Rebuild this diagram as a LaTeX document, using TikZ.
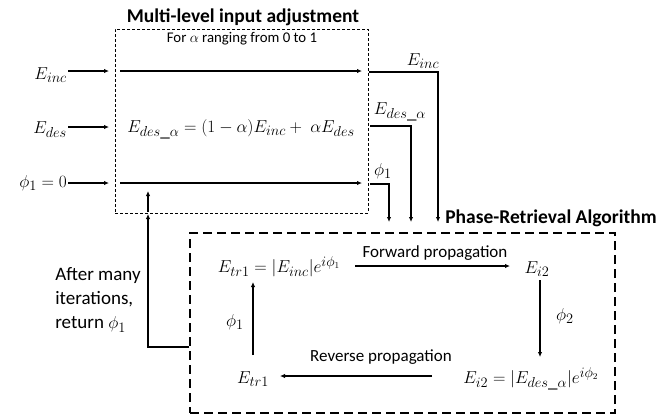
\documentclass[tikz,border=0pt]{standalone}
\usepackage{fontspec}
\setmainfont{Carlito}
\usetikzlibrary{arrows.meta}
\begin{document}
\begin{tikzpicture}[x=1pt,y=-1pt,
  arr/.style={-{Latex[length=5pt,width=4.5pt]}, line width=1.1pt},
  ln/.style={line width=1.1pt},
  mth/.style={font=\fontsize{19}{22}\selectfont, inner sep=1pt},
  ttl/.style={font=\fontsize{19.5}{22}\selectfont\bfseries, inner sep=0pt},
  lbl/.style={font=\fontsize{17}{20}\selectfont, inner sep=0pt},
  smallbox/.style={draw, line width=0.8pt, dash pattern=on 3pt off 2pt, inner sep=0pt},
  bigbox/.style={draw, line width=1.8pt, dash pattern=on 9pt off 5pt, inner sep=0pt}
]
\useasboundingbox (0,0) rectangle (665,416);
% boxes
\node[smallbox, minimum width=253pt, minimum height=184pt] (adj) at (241.5,121) {};
\node[bigbox, minimum width=425pt, minimum height=180pt] (pra) at (402.5,323) {};
% titles
\node[ttl] (t1) at (243,17) {Multi-level input adjustment};
\node[lbl, font=\fontsize{14.8}{17}\selectfont] (t2) at (242,39) {For $\alpha$ ranging from 0 to 1};
\node[ttl] (t3) at (551,218) {Phase-Retrieval Algorithm};
% left inputs
\node[mth, anchor=east] (einc) at (68,75) {$E_{inc}$};
\node[mth, anchor=east] (edes) at (68,130) {$E_{des}$};
\node[mth, anchor=east] (phi0) at (68,183) {$\phi_1 = 0$};
\node[mth] (eq) at (241,129) {$E_{des\_\alpha} = (1-\alpha)E_{inc} +\ \alpha E_{des}$};
\coordinate (in1) at (109,71);
\coordinate (in2) at (109,127);
\coordinate (in3) at (109,183);
\draw[arr] (einc.east |- in1) -- (in1);
\draw[arr] (edes.east |- in2) -- (in2);
\draw[arr] (phi0.east |- in3) -- (in3);
% inner lines
\coordinate (s1) at (120,71); \coordinate (e1) at (362,71);
\coordinate (s3) at (120,183); \coordinate (e3) at (362,183);
\draw[arr] (s1) -- (e1);
\draw[arr] (s3) -- (e3);
% outputs
\coordinate (o1) at (369,72); \coordinate (c1) at (438,72); \coordinate (d1) at (438,222);
\coordinate (o2) at (370,126); \coordinate (c2) at (411,126); \coordinate (d2) at (411,222);
\coordinate (o3) at (370,184); \coordinate (c3) at (389,184); \coordinate (d3) at (389,222);
\draw[arr] (o1) -- (c1) -- (d1);
\draw[arr] (o2) -- (c2) -- (d2);
\draw[arr] (o3) -- (c3) -- (d3);
\node[mth] (l1) at (423,61) {$E_{inc}$};
\node[mth] (l2) at (400,112) {$E_{des\_\alpha}$};
\node[mth] (l3) at (383,171) {$\phi_1$};
% feedback
\coordinate (fbc) at (148,347);
\coordinate (fbt) at (148,214);
\coordinate (fbi) at (148,212);
\coordinate (fbe) at (148,191);
\draw[arr] (pra.west |- fbc) -- (fbc) -- (fbt);
\draw[arr] (fbi) -- (fbe);
\node[lbl, font=\fontsize{19}{24}\selectfont, align=left] (after) at (98,300) {After many\\iterations,\\return $\phi_1$};
% inner algorithm
\node[mth] (etr) at (279,267) {$E_{tr1} = |E_{inc}|e^{i\phi_1}$};
\node[mth] (ei2) at (537,269) {$E_{i2}$};
\node[mth] (ei2b) at (531,379) {$E_{i2} = \bigl|E_{des\_\alpha}\bigr|e^{i\phi_2}$};
\node[mth] (etrb) at (253,379) {$E_{tr1}$};
\coordinate (fs) at (355,266); \coordinate (fe) at (510,266);
\coordinate (rs) at (432,376); \coordinate (re) at (280,376);
\coordinate (ds) at (540,280); \coordinate (de) at (540,357);
\coordinate (us) at (253,355); \coordinate (ue) at (253,282);
\draw[arr] (fs) -- (fe);
\draw[arr] (rs) -- (re);
\draw[arr] (ds) -- (de);
\draw[arr] (us) -- (ue);
\node[lbl] (fwd) at (435,253) {Forward propagation};
\node[lbl] (rev) at (381,357) {Reverse propagation};
\node[mth] (p2) at (565,316) {$\phi_2$};
\node[mth] (p1) at (235,322) {$\phi_1$};
\end{tikzpicture}
\end{document}
